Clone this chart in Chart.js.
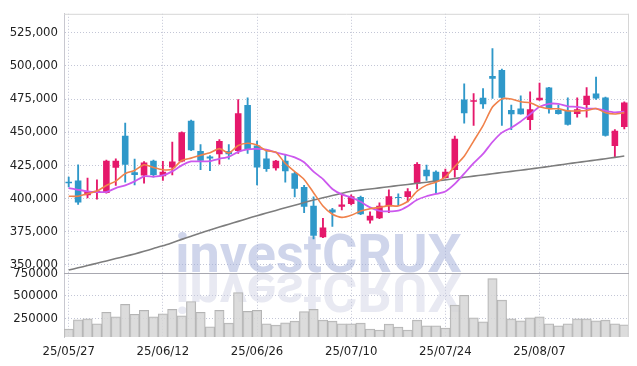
<!DOCTYPE html>
<html>
<head>
<meta charset="utf-8">
<script src="https://cdn.jsdelivr.net/npm/chart.js@4.4.1/dist/chart.umd.min.js"></script>
<style>
  html, body { margin: 0; padding: 0; background: #fff; }
</style>
</head>
<body>
<canvas id="chart" width="637" height="366"></canvas>
<script>
// trading days (yy/mm/dd)
const dates = ['25/05/27','25/05/28','25/05/29','25/05/30','25/06/02','25/06/04','25/06/05','25/06/09','25/06/10','25/06/11',
  '25/06/12','25/06/13','25/06/16','25/06/17','25/06/18','25/06/19','25/06/20','25/06/23','25/06/24','25/06/25',
  '25/06/26','25/06/27','25/06/30','25/07/01','25/07/02','25/07/03','25/07/04','25/07/07','25/07/08','25/07/09',
  '25/07/10','25/07/11','25/07/14','25/07/15','25/07/16','25/07/17','25/07/18','25/07/21','25/07/22','25/07/23',
  '25/07/24','25/07/25','25/07/28','25/07/29','25/07/30','25/07/31','25/08/01','25/08/04','25/08/05','25/08/06',
  '25/08/07','25/08/08','25/08/11','25/08/12','25/08/13','25/08/14','25/08/18','25/08/19','25/08/20','25/08/21'];

// prices in thousands
const open  = [412.5,413.4,402.2,404.2,404.0,423.1,447.3,419.6,417.1,428.3, 416.6,423.3,427.8,458.5,435.7,431.5,433.2,435.7,435.7,470.4,
  439.9,430.0,422.6,428.3,418.8,408.4,394.3,370.5,391.5,393.5, 395.7,401.0,383.1,384.8,394.0,401.0,401.0,410.9,421.6,420.1,
  415.3,421.3,474.6,472.9,475.9,492.3,497.0,466.7,467.9,459.2, 474.1,483.6,466.7,466.2,463.7,470.4,479.1,476.1,439.4,453.8];
const high  = [415.9,425.3,415.3,413.9,428.9,429.8,456.8,429.5,427.7,428.8, 427.8,442.4,450.1,459.0,440.6,432.2,444.4,440.6,474.6,475.9,
  443.2,436.9,428.7,433.2,419.6,409.7,401.0,384.8,392.3,402.7, 402.5,401.7,389.8,396.5,406.4,403.4,407.2,427.0,425.0,420.8,
  422.0,446.9,486.5,479.1,482.8,513.1,497.7,470.4,477.4,480.4, 487.1,483.9,470.4,475.9,475.9,483.6,491.5,476.5,451.8,472.9];
const low   = [408.5,395.3,400.2,399.3,403.9,409.7,412.1,410.1,411.4,415.9, 413.4,417.6,427.4,435.9,421.6,420.8,425.8,429.5,433.9,433.9,
  410.1,420.3,421.3,412.1,401.0,389.1,369.2,370.1,378.7,391.1, 395.0,387.6,381.1,384.6,389.1,394.3,397.3,407.1,413.4,403.4,
  415.1,415.9,456.8,455.1,467.9,475.4,455.1,451.8,463.5,451.8, 473.9,464.2,463.5,455.3,461.2,461.2,474.6,446.9,430.7,452.3];
const close = [411.3,396.7,405.4,405.7,428.3,428.3,425.3,417.6,427.0,417.6, 420.1,427.8,449.9,436.2,428.3,430.0,443.2,433.2,464.2,436.9,
  423.3,422.0,428.3,420.3,407.1,393.5,371.7,377.9,389.3,395.2, 401.5,387.8,386.8,394.3,401.5,400.2,405.2,425.8,416.6,412.7,
  420.1,444.9,464.2,474.1,471.1,490.3,475.9,463.5,463.5,467.2, 475.9,467.9,463.7,455.5,467.2,477.4,475.4,447.3,451.0,472.4];

// moving averages (thousands)
const ma5  = [401.5,401.5,403.4,405.4,409.6,412.9,418.6,421.0,425.3,423.2, 421.5,422.0,428.5,430.3,432.5,434.4,437.5,434.2,439.8,441.5,
  440.2,435.9,434.9,426.2,420.2,414.2,404.2,394.1,387.9,385.5, 387.1,390.3,392.1,393.1,394.4,394.1,397.6,405.4,409.9,412.1,
  416.1,424.0,431.7,443.2,454.9,468.9,475.1,475.0,472.9,472.1, 469.2,467.6,467.6,466.0,466.0,466.3,467.8,464.6,463.7,464.7];
const ma10 = [407.7,406.4,405.2,404.7,404.7,407.7,409.7,412.7,416.6,416.4, 417.2,420.3,424.8,427.8,427.8,428.0,429.8,431.3,435.1,437.0,
  437.3,436.7,434.6,433.0,430.9,427.2,420.1,414.5,407.0,402.9, 400.7,397.3,393.1,390.5,390.0,390.6,394.0,398.8,401.5,403.2,
  405.1,410.8,418.6,426.5,433.5,442.5,449.6,453.3,458.0,463.5, 469.1,471.4,471.3,469.5,469.1,467.8,467.7,466.1,464.9,465.4];
const maLong = [345.7,347.4,349.1,350.9,352.6,354.4,356.1,357.9,359.9,362.0, 364.0,366.4,368.9,371.3,373.8,376.0,378.2,380.4,382.5,384.7,
  386.8,388.8,390.8,392.8,394.7,396.7,398.6,400.3,402.0,403.7, 405.3,406.1,407.0,407.8,408.7,409.6,410.4,411.3,412.1,413.0,
  413.9,414.9,415.8,416.7,417.6,418.5,419.4,420.3,421.2,422.1, 423.0,424.0,425.0,426.0,427.0,427.9,428.9,429.9,430.9,431.9];

const volume = [129400,231400,242300,187500,315800,264300,403500,293900,337700,264300, 297200,348700,275200,436400,315800,154600,337700,195200,535100,326800,
  337700,187500,173200,198500,217100,322400,348700,228100,217100,187500, 187500,195200,129400,118400,184200,151300,118400,228100,165600,165600,
  140400,395800,505500,253300,209400,691900,450700,242300,220400,253300, 264300,187500,165600,187500,242300,242300,220400,228100,187500,176500];

const priceTicks = [350000,375000,400000,425000,450000,475000,500000,525000];
const volumeTicks = [250000,500000,750000];

const K = v => v * 1000;
const UP = '#e5186b', DOWN = '#2f98c9';
const isUp = i => close[i] >= open[i];
const candleColor = ctx => isUp(ctx.dataIndex) ? UP : DOWN;
const gridColor = '#c3c6d6';
const tickFont = { family: "'DejaVu Sans Condensed', 'DejaVu Sans', sans-serif", size: 13 };

const backdrop = {
  id: 'backdrop',
  beforeDatasetsDraw(chart) {
    const { ctx, scales } = chart;
    const base = scales.v.top;
    const cx = chart.width / 2;
    ctx.save();
    ctx.font = 'bold 54px Roboto, sans-serif';
    ctx.textAlign = 'center';
    ctx.textBaseline = 'alphabetic';
    ctx.fillStyle = 'rgba(160,172,216,0.5)';
    ctx.fillText('investCRUX', cx, base - 1);
    ctx.translate(0, base * 2);
    ctx.scale(1, -1);
    ctx.fillStyle = 'rgba(200,202,224,0.42)';
    ctx.fillText('investCRUX', cx, base - 1);
    ctx.restore();
  },
  afterDraw(chart) {
    const { ctx, chartArea: a, scales } = chart;
    ctx.save();
    ctx.lineWidth = 1;
    ctx.strokeStyle = '#d6d6d6';
    ctx.beginPath();
    ctx.moveTo(a.left, a.top + 0.5); ctx.lineTo(a.right, a.top + 0.5);
    ctx.moveTo(a.right - 0.5, a.top); ctx.lineTo(a.right - 0.5, a.bottom);
    ctx.stroke();
    ctx.strokeStyle = '#a8a8b0';
    ctx.beginPath();
    const y = Math.round(scales.v.top) + 0.5;
    ctx.moveTo(a.left, y); ctx.lineTo(a.right, y);
    ctx.stroke();
    ctx.restore();
  }
};

new Chart(document.getElementById('chart'), {
  type: 'bar',
  data: {
    labels: dates,
    datasets: [
      { type: 'line', data: ma5.map(K), yAxisID: 'y', borderColor: '#f0814a', borderWidth: 1.6,
        pointRadius: 0, tension: 0.2, order: 0 },
      { type: 'line', data: ma10.map(K), yAxisID: 'y', borderColor: '#cc58ee', borderWidth: 1.8,
        pointRadius: 0, tension: 0.2, order: 0 },
      { type: 'line', data: maLong.map(K), yAxisID: 'y', borderColor: '#7d7d7d', borderWidth: 1.6,
        pointRadius: 0, tension: 0.2, order: 0 },
      { data: low.map((v, i) => [K(v), K(high[i])]), yAxisID: 'y', backgroundColor: candleColor,
        barThickness: 1.2, grouped: false, borderSkipped: false, order: 2 },
      { data: open.map((v, i) => [K(v), K(close[i])]), yAxisID: 'y', backgroundColor: candleColor,
        barPercentage: 0.7, categoryPercentage: 1, grouped: false, borderSkipped: false, order: 1 },
      { data: volume, yAxisID: 'v', backgroundColor: 'rgba(214,214,214,0.85)', borderColor: '#b4b4b4',
        borderWidth: 1, barPercentage: 1, categoryPercentage: 1, grouped: false, order: 3 }
    ]
  },
  options: {
    responsive: false,
    animation: false,
    layout: { padding: { top: 9, right: 8, left: 0, bottom: 0 } },
    plugins: { legend: { display: false }, tooltip: { enabled: false } },
    scales: {
      x: {
        offset: true,
        grid: { offset: false, drawTicks: false,
          color: ctx => ctx.index % 10 === 0 ? gridColor : 'transparent' },
        border: { display: false, dash: [1, 2] },
        ticks: { autoSkip: false, maxRotation: 0, padding: 7, color: '#222', font: tickFont,
          callback: (v, i) => i % 10 === 0 ? dates[i] : '' },
        afterFit: s => { s.height = 29; }
      },
      v: {
        stack: 'panes', stackWeight: 1, position: 'left',
        min: 40000, max: 750000,
        afterBuildTicks: s => { s.ticks = volumeTicks.map(v => ({ value: v })); },
        grid: { drawTicks: false, color: gridColor },
        border: { color: '#c8c8d0', dash: [1, 2] },
        ticks: { autoSkip: false, padding: 6, color: '#222', font: tickFont, callback: v => String(v) },
        afterFit: s => { s.width = 64; }
      },
      y: {
        stack: 'panes', stackWeight: 4.08, position: 'left',
        min: 343200, max: 539400,
        afterBuildTicks: s => { s.ticks = priceTicks.map(v => ({ value: v })); },
        grid: { drawTicks: false, color: gridColor },
        border: { color: '#c8c8d0', dash: [1, 2] },
        ticks: { autoSkip: false, padding: 6, color: '#222', font: tickFont,
          callback: v => v.toLocaleString('en-US') },
        afterFit: s => { s.width = 64; }
      }
    }
  },
  plugins: [backdrop]
});
</script>
</body>
</html>
